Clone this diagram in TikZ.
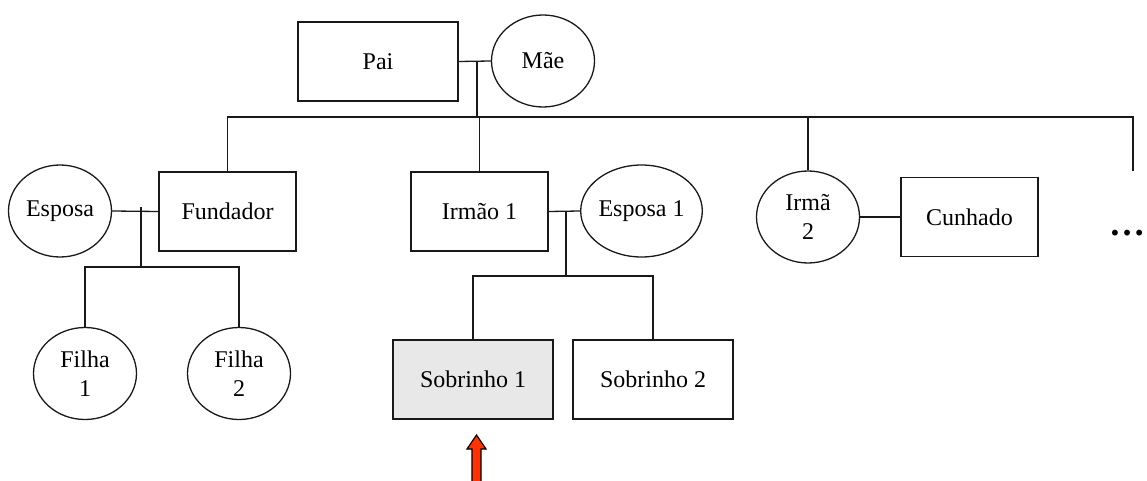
\documentclass[tikz,border=0pt]{standalone}
\usepackage{fontspec}
\setmainfont{Liberation Serif}
\usetikzlibrary{shapes.geometric}
\definecolor{grayfill}{HTML}{E8E8E8}
\definecolor{arrowred}{HTML}{FF3300}
\begin{document}
\begin{tikzpicture}[x=1pt,y=-1pt,
  every node/.style={font=\fontsize{24}{29}\selectfont, inner sep=0pt, align=center},
  line/.style={draw=black!90, line width=1.3pt},
  mbox/.style={line, rectangle, minimum width=137pt, minimum height=79pt},
  wbox/.style={mbox, minimum width=160pt},
  fem/.style={line, ellipse, minimum width=103pt, minimum height=92pt}]
\useasboundingbox (0,0) rectangle (1147,481);
% nodes
\node[wbox] (pai) at (378,61.5) {Pai};
\node[fem] (mae) at (543,61) {Mãe};
\node[mbox] (fund) at (227.5,211.5) {Fundador};
\node[fem] (esposa) at (60,211) {Esposa};
\node[fem] (filha1) at (85,373.5) {Filha\\1};
\node[fem] (filha2) at (239,373.5) {Filha\\2};
\node[mbox] (irmao) at (479.5,211.5) {Irmão 1};
\node[fem] (esposa1) at (641.5,211) {Esposa 1};
\node[fem] (irma) at (808,217) {Irmã\\2};
\node[mbox] (cunhado) at (969.5,217) {Cunhado};
\node[wbox, fill=grayfill] (sob1) at (473,379.5) {Sobrinho 1};
\node[wbox] (sob2) at (653,379.5) {Sobrinho 2};
\node[font=\fontsize{36}{40}\selectfont\bfseries, anchor=base] (dots) at (1127,235.5) {…};
% coordinates
\coordinate (c1) at (477,61);
\coordinate (bar) at (477,117);
\coordinate (barR) at (1133,117);
\coordinate (barEnd) at (1133,171);
\coordinate (m1) at (141,207);
\coordinate (k1) at (141,267);
\coordinate (m2) at (566,211);
\coordinate (k2) at (566,276);
% connectors
\draw[line] (pai.east) -- (mae.west);
\draw[line] (c1) -- (bar);
\draw[line] (fund.north) -- (fund.north |- bar) -- (barR) -- (barEnd);
\draw[line] (irmao.north) -- (irmao.north |- bar);
\draw[line] (irma.north) -- (irma.north |- bar);
\draw[line] (esposa.east) -- (fund.west);
\draw[line] (m1) -- (k1);
\draw[line] (filha1.north) |- (k1) -| (filha2.north);
\draw[line] (irmao.east) -- (esposa1.west);
\draw[line] (m2) -- (k2);
\draw[line] (sob1.north) |- (k2) -| (sob2.north);
\draw[line] (irma.east) -- (cunhado.west);
% pointer arrow
\draw[line width=1.2pt, fill=arrowred] (476.5,435) -- (486,449) -- (481,449) -- (481,482) -- (472,482) -- (472,449) -- (467,449) -- cycle;
\end{tikzpicture}
\end{document}
